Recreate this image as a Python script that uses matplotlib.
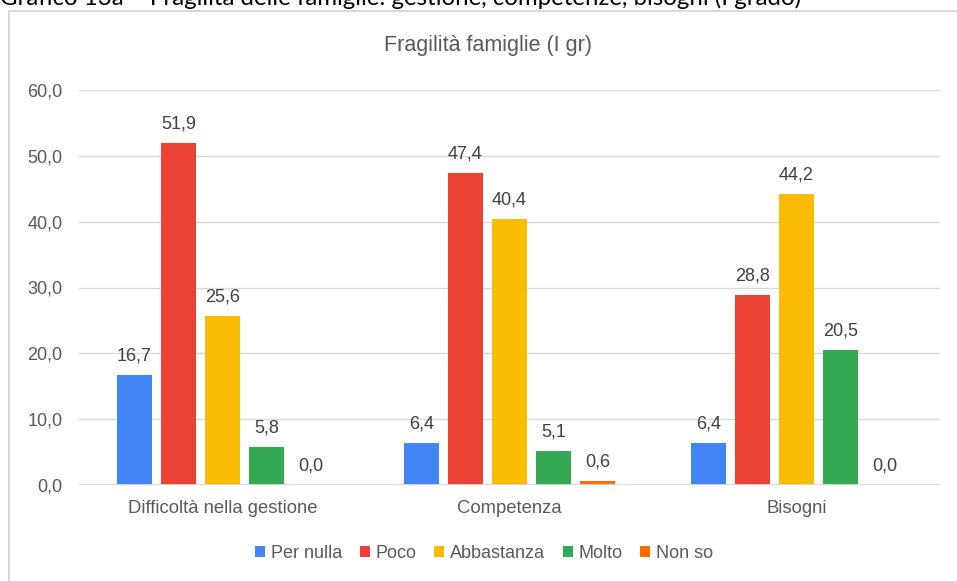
import numpy as np
import matplotlib
matplotlib.use("Agg")
import matplotlib.pyplot as plt
from matplotlib.patches import Rectangle

categories = ["Difficoltà nella gestione", "Competenza", "Bisogni"]
series_names = ["Per nulla", "Poco", "Abbastanza", "Molto", "Non so"]
per_nulla = [16.7, 6.4, 6.4]
poco = [51.9, 47.4, 28.8]
abbastanza = [25.6, 40.4, 44.2]
molto = [5.8, 5.1, 20.5]
non_so = [0.0, 0.6, 0.0]
colors = ["#4285F4", "#EA4335", "#FBBC04", "#34A853", "#FF6D01"]
y_ticks = [0, 10, 20, 30, 40, 50, 60]

plt.rcParams['font.family'] = ['Liberation Sans', 'DejaVu Sans']
text_col = "#595959"
grid_col = "#d9d9d9"

W, H = 957, 581
fig = plt.figure(figsize=(W / 100, H / 100), dpi=100)
ax = fig.add_axes([79 / W, (H - 485) / H, 861 / W, 395 / H])

# outer chart border (only left/top visible in the crop)
fig.patches.append(Rectangle((9 / W, -0.1), 1.2, (H - 11) / H + 0.1,
                             transform=fig.transFigure, fill=False,
                             edgecolor=grid_col, lw=1.5, zorder=0))

# cropped caption at the very top
fig.text(0.0, 1.003, "Grafico 13a – Fragilità delle famiglie: gestione, competenze, bisogni (I grado)",
         family=['Lato', 'DejaVu Sans'], fontsize=17.3, color="black",
         ha="left", va="center")

all_series = [per_nulla, poco, abbastanza, molto, non_so]
x = np.arange(len(categories))
step = 44 / 287
width = 35 / 287
for i, (name, vals) in enumerate(zip(series_names, all_series)):
    pos = x + (i - 2) * step
    ax.bar(pos, vals, width=width, color=colors[i], label=name, zorder=3)
    for px, v in zip(pos, vals):
        ax.annotate(f"{v:.1f}".replace(".", ","), (px, v), xytext=(0, 10.5),
                    textcoords="offset points", ha="center", va="baseline",
                    fontsize=13, color="#404040")

ax.set_xlim(-0.5, 2.5)
ax.set_ylim(0, 60)
ax.set_yticks(y_ticks)
ax.set_yticklabels([f"{t:.1f}".replace(".", ",") for t in y_ticks])
ax.set_xticks(x)
ax.set_xticklabels(categories)
ax.tick_params(axis="y", length=0, pad=12, labelsize=13, labelcolor=text_col)
ax.tick_params(axis="x", length=0, pad=11, labelsize=13.3, labelcolor=text_col)
ax.grid(axis="y", color=grid_col, lw=1.0, zorder=0)
ax.axhline(0, color=grid_col, lw=2, zorder=4)
for s in ax.spines.values():
    s.set_visible(False)

fig.text(488 / W, 1 - 45 / H, "Fragilità famiglie (I gr)", ha="center", va="center",
         fontsize=15.5, color=text_col)

fig.legend(loc="center", bbox_to_anchor=(484 / W, 1 - 553 / H), ncol=5,
           frameon=False, fontsize=13, labelcolor=text_col,
           handlelength=0.55, handleheight=0.55, handletextpad=0.3,
           columnspacing=1.0)

fig.savefig("out.png", dpi=100)
